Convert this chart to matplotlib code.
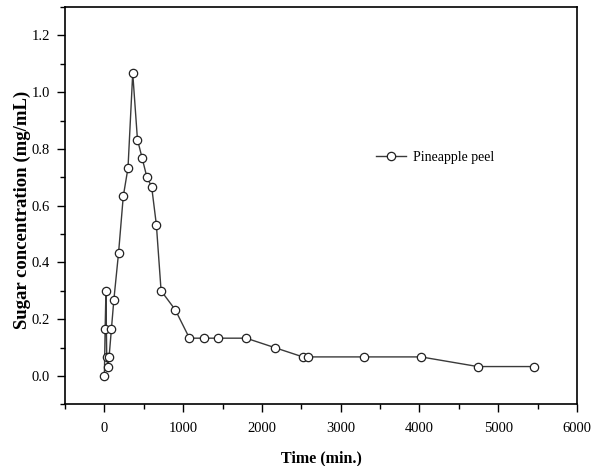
import matplotlib
matplotlib.use("Agg")
import matplotlib.pyplot as plt
from matplotlib.ticker import MultipleLocator

time_min = [0, 10, 20, 30, 45, 60, 90, 120, 180, 240, 300, 360, 420, 480, 540,
            600, 660, 720, 900, 1080, 1260, 1440, 1800, 2160, 2520, 2580,
            3300, 4020, 4740, 5460]
sugar = [0.0, 0.167, 0.300, 0.067, 0.033, 0.067, 0.167, 0.267, 0.433, 0.633,
         0.733, 1.067, 0.833, 0.767, 0.700, 0.667, 0.533, 0.300, 0.233, 0.133,
         0.133, 0.133, 0.133, 0.100, 0.067, 0.067, 0.067, 0.067, 0.033, 0.033]
series_name = "Pineapple peel"
x_label = "Time (min.)"
y_label = "Sugar concentration (mg/mL)"

plt.rcParams['font.family'] = ['Liberation Serif', 'DejaVu Serif']

fig = plt.figure(figsize=(6.0, 4.66), dpi=100)
ax = fig.add_axes([0.1083, 0.1324, 0.8534, 0.8526])

ax.plot(time_min, sugar, color='#3a3a3a', lw=1.0, marker='o', markersize=6,
        markerfacecolor='white', markeredgecolor='#222222', markeredgewidth=0.9,
        label=series_name)

ax.set_xlim(-500, 6000)
ax.set_ylim(-0.1, 1.3)
ax.xaxis.set_major_locator(MultipleLocator(1000))
ax.xaxis.set_minor_locator(MultipleLocator(500))
ax.yaxis.set_minor_locator(MultipleLocator(0.1))
ax.set_yticks([0.0, 0.2, 0.4, 0.6, 0.8, 1.0, 1.2])
ax.set_yticklabels(["0.0", "0.2", "0.4", "0.6", "0.8", "1.0", "1.2"])

ax.tick_params(which='major', direction='out', length=6, width=1.0,
               labelsize=10.5, top=False, right=False)
ax.tick_params(axis='x', which='major', pad=7)
ax.tick_params(axis='y', which='major', pad=5)
ax.tick_params(which='minor', direction='out', length=3.5, width=1.0,
               top=False, right=False)
for s in ax.spines.values():
    s.set_linewidth(1.2)

ax.set_xlabel(x_label, fontsize=11.5, fontweight='bold')
ax.xaxis.set_label_coords(0.5, -0.115)
ax.set_ylabel(y_label, fontsize=13.5, fontweight='bold')
ax.yaxis.set_label_coords(-0.066, 0.489)

leg = ax.legend(loc='center left', bbox_to_anchor=(0.607, 0.622), frameon=False,
                fontsize=10, handlelength=2.2, handletextpad=0.5,
                borderaxespad=0, borderpad=0)

fig.savefig("out.png", dpi=100)
